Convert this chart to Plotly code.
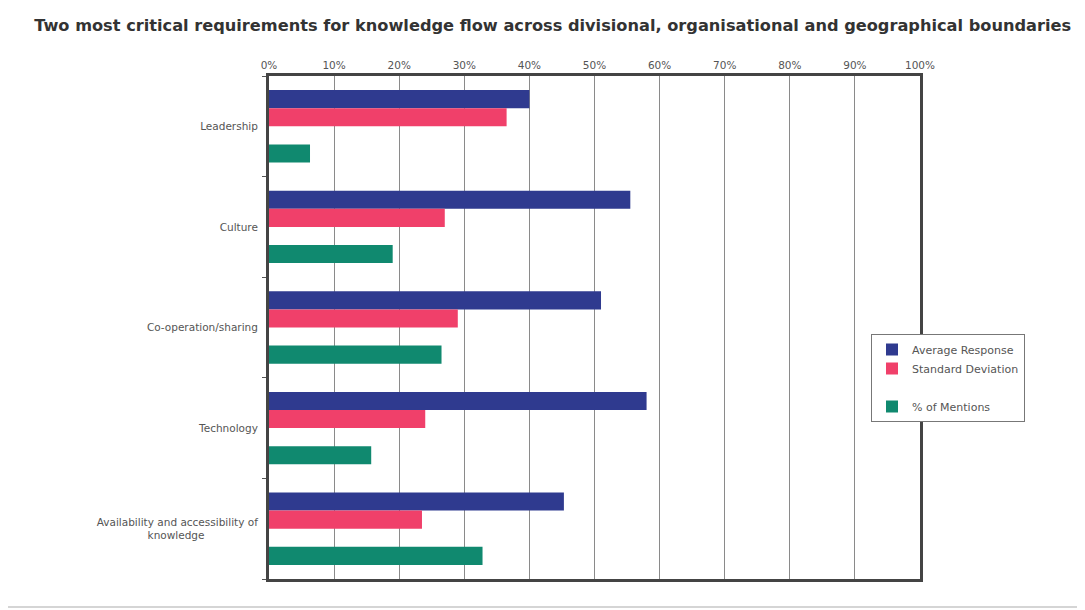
import plotly.graph_objects as go

categories = ["Leadership", "Culture", "Co-operation/sharing", "Technology",
              "Availability and accessibility of knowledge"]
category_labels = ["Leadership", "Culture", "Co-operation/sharing", "Technology",
                   "Availability and accessibility of<br>knowledge" + "\u00a0" * 16]
average_response = [0.40, 0.555, 0.51, 0.58, 0.453]
standard_deviation = [0.365, 0.27, 0.29, 0.24, 0.235]
pct_mentions = [0.063, 0.19, 0.265, 0.157, 0.328]
x_ticks = [i / 10 for i in range(11)]
x_tick_labels = [f"{i*10}%" for i in range(11)]

fig = go.Figure()
fig.add_trace(go.Bar(y=categories, x=average_response, orientation="h",
                     name="Average Response", marker=dict(color="#2f3a8f", line=dict(width=0))))
fig.add_trace(go.Bar(y=categories, x=standard_deviation, orientation="h",
                     name="Standard Deviation", marker=dict(color="#f0406a", line=dict(width=0))))
fig.add_trace(go.Bar(y=categories, x=[None] * len(categories), orientation="h",
                     name=" ", marker=dict(color="rgba(255,255,255,0)", line=dict(width=0))))
fig.add_trace(go.Bar(y=categories, x=pct_mentions, orientation="h",
                     name="% of Mentions", marker=dict(color="#10896f", line=dict(width=0))))

FONT = "DejaVu Sans, Verdana, sans-serif"
font_small = dict(family=FONT, size=10.5, color="#555555")

fig.update_layout(
    width=1085, height=610,
    paper_bgcolor="white", plot_bgcolor="white",
    margin=dict(l=261, r=173, t=68, b=39),
    barmode="group", bargap=0.28, bargroupgap=0,
    title=dict(text="<b>Two most critical requirements for knowledge flow across divisional, organisational and geographical boundaries</b>",
               x=0.502, xanchor="center", y=0.972, yanchor="middle",
               font=dict(family=FONT, size=16.2, color="#333333")),
    showlegend=True,
    legend=dict(x=(870 - 268) / 651, y=(578 - 333) / 503, xanchor="left", yanchor="top",
                bgcolor="white", bordercolor="#777777", borderwidth=1,
                font=dict(family=FONT, size=11, color="#555555"),
                itemwidth=30, tracegroupgap=0, traceorder="normal"),
    xaxis=dict(range=[0, 1], side="top", tickvals=x_ticks, ticktext=x_tick_labels,
               showgrid=True, gridcolor="#8a8a8a", gridwidth=1,
               showline=True, mirror=True, linecolor="#444444", linewidth=3,
               ticks="", tickfont=font_small, zeroline=False, fixedrange=True),
    yaxis=dict(autorange="reversed", tickson="boundaries", ticks="outside", ticklen=4,
               tickcolor="#555555", showgrid=False,
               tickvals=categories, ticktext=category_labels,
               showline=True, mirror=True, linecolor="#444444", linewidth=3,
               tickfont=font_small, ticklabelstandoff=6),
    shapes=[dict(type="rect", xref="paper", yref="paper",
                 x0=(2 - 268) / 651, x1=(1081 - 268) / 651,
                 y0=(578 - 606) / 503, y1=(578 - 4) / 503,
                 line=dict(color="#c8c8c8", width=1.5), fillcolor="rgba(0,0,0,0)", layer="below")],
)

fig.write_html("out.html")
